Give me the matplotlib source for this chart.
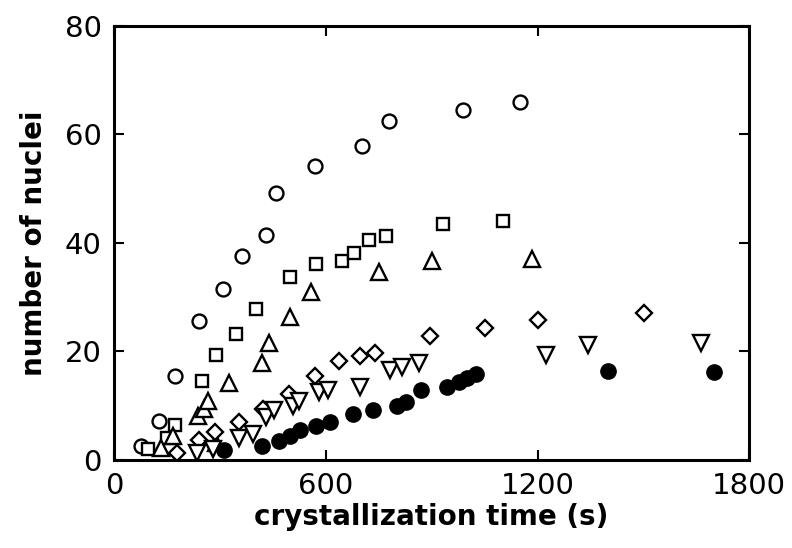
import numpy as np
import matplotlib.pyplot as plt

# crystallization time (s) and number of nuclei, one pair per series
t_circle = [76, 127, 173, 241, 309, 364, 431, 459, 569, 703, 778, 988, 1151]
n_circle = [2.5, 7.1, 15.4, 25.6, 31.5, 37.6, 41.4, 49.1, 54.1, 57.8, 62.4, 64.5, 65.9]

t_square = [95, 151, 173, 249, 288, 347, 402, 498, 572, 646, 679, 723, 771, 931, 1102]
n_square = [2.0, 4.0, 6.4, 14.6, 19.3, 23.1, 27.7, 33.6, 36.0, 36.7, 38.2, 40.5, 41.3, 43.4, 44.0]

t_up = [132, 166, 238, 255, 265, 290, 326, 419, 440, 498, 558, 750, 901, 1184]
n_up = [2.1, 4.3, 8.0, 9.3, 10.8, 3.0, 14.2, 17.9, 21.5, 26.3, 30.9, 34.6, 36.7, 37.0]

t_diamond = [178, 242, 285, 353, 422, 497, 570, 637, 696, 740, 896, 1051, 1200, 1503]
n_diamond = [1.2, 3.6, 5.2, 7.0, 9.4, 12.2, 15.4, 18.2, 19.1, 19.7, 22.8, 24.2, 25.7, 27.1]

t_down = [236, 280, 355, 393, 430, 452, 506, 525, 582, 605, 697, 781, 816, 865, 1223, 1343, 1664]
n_down = [1.2, 2.0, 4.0, 4.7, 7.8, 9.2, 10.0, 10.8, 12.4, 12.8, 13.4, 16.5, 17.1, 17.9, 19.3, 21.1, 21.5]

t_filled = [312, 418, 468, 498, 528, 572, 612, 678, 735, 801, 826, 870, 943, 977, 1000, 1026, 1401, 1700]
n_filled = [1.8, 2.6, 3.5, 4.3, 5.5, 6.2, 6.9, 8.4, 9.2, 9.9, 10.7, 12.8, 13.4, 14.4, 15.0, 15.8, 16.4, 16.1]

fig = plt.figure(figsize=(7.92, 5.48), dpi=100)
ax = fig.add_axes([0.144, 0.161, 0.802, 0.792])

mw = 1.7
ax.plot(t_circle, n_circle, 'o', ms=10, mfc='white', mec='black', mew=mw, ls='none')
ax.plot(t_square, n_square, 's', ms=9, mfc='white', mec='black', mew=mw, ls='none')
ax.plot(t_up, n_up, '^', ms=11, mfc='white', mec='black', mew=mw, ls='none')
ax.plot(t_diamond, n_diamond, 'D', ms=8, mfc='white', mec='black', mew=mw, ls='none')
ax.plot(t_down, n_down, 'v', ms=11, mfc='white', mec='black', mew=mw, ls='none')
ax.plot(t_filled, n_filled, 'o', ms=11, mfc='black', mec='black', ls='none')

ax.set_xlim(0, 1800)
ax.set_ylim(0, 80)
ax.set_xticks([0, 600, 1200, 1800])
ax.set_yticks([0, 20, 40, 60, 80])
ax.tick_params(direction='in', length=7, width=1.5, top=True, right=True,
               labelsize=21, pad=9)
for s in ax.spines.values():
    s.set_linewidth(2.2)

ax.set_xlabel('crystallization time (s)', fontsize=20, fontweight='bold', labelpad=2)
ax.set_ylabel('number of nuclei', fontsize=20, fontweight='bold', labelpad=12)

fig.savefig('out.png', dpi=100)
